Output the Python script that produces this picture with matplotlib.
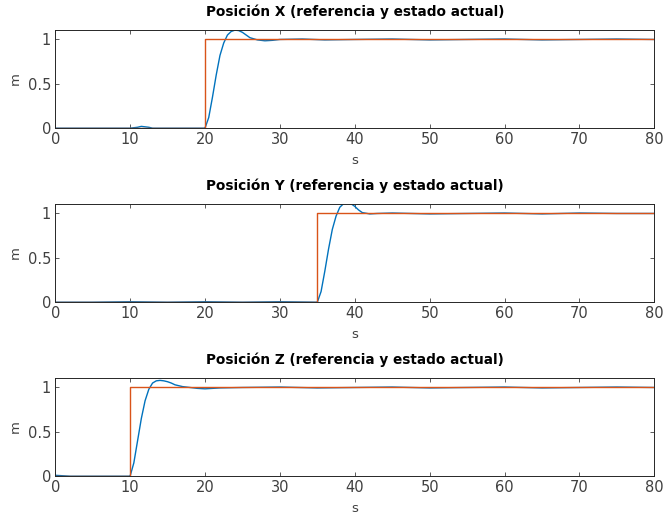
import matplotlib.pyplot as plt

# time axis shared by the hand-read samples
t_x = [0, 5, 10, 11, 11.5, 12, 12.5, 13, 15, 19.9, 20, 20.5, 21, 21.5, 22, 22.5, 23,
       23.5, 24, 24.5, 25, 25.5, 26, 27, 28, 29, 30, 33, 36, 40, 45, 50, 55, 60,
       65, 70, 75, 80]
pos_x = [0.0, 0.0, 0.0, 0.01, 0.02, 0.015, 0.01, 0.0, 0.0, 0.0, 0.0, 0.12, 0.35, 0.6,
         0.82, 0.96, 1.05, 1.09, 1.105, 1.1, 1.08, 1.05, 1.02, 0.995, 0.985, 0.99,
         1.0, 1.005, 0.995, 1.0, 1.005, 0.995, 1.0, 1.005, 0.995, 1.0, 1.005, 1.0]

t_y = [0, 5, 10, 15, 20, 25, 30, 34.9, 35, 35.5, 36, 36.5, 37, 37.5, 38, 38.5, 39,
       39.5, 40, 40.5, 41, 42, 43, 45, 50, 55, 60, 65, 70, 75, 80]
pos_y = [0.0, 0.0, 0.005, 0.0, 0.005, 0.0, 0.005, 0.0, 0.0, 0.12, 0.35, 0.6, 0.82,
         0.97, 1.07, 1.11, 1.12, 1.11, 1.08, 1.04, 1.01, 0.995, 1.0, 1.005, 0.995,
         1.0, 1.005, 0.995, 1.005, 1.0, 1.0]

t_z = [0, 2, 5, 8, 9.9, 10, 10.5, 11, 11.5, 12, 12.5, 13, 13.5, 14, 14.5, 15, 15.5,
       16, 17, 18, 19, 20, 22, 25, 30, 35, 40, 45, 50, 55, 60, 65, 70, 75, 80]
pos_z = [0.01, 0.0, 0.0, 0.0, 0.0, 0.0, 0.15, 0.4, 0.65, 0.85, 0.98, 1.05, 1.075,
         1.08, 1.075, 1.065, 1.05, 1.03, 1.01, 1.0, 0.99, 0.985, 0.995, 1.0, 1.005,
         0.995, 1.0, 1.005, 0.995, 1.0, 1.005, 0.995, 1.0, 1.005, 1.0]

step_times = [20, 35, 10]
titles = ['Posición X (referencia y estado actual)',
          'Posición Y (referencia y estado actual)',
          'Posición Z (referencia y estado actual)']

blue = '#0072BD'
orange = '#D95319'
grey = '#404040'

fig = plt.figure(figsize=(6.65, 5.21), dpi=100)
bottoms = [0.754, 0.420, 0.086]

series = [(t_x, pos_x), (t_y, pos_y), (t_z, pos_z)]
for i in range(3):
    ax = fig.add_axes([0.083, bottoms[i], 0.901, 0.189])
    t, p = series[i]
    ts = step_times[i]
    ax.plot(t, p, color=blue, lw=1.0)
    ax.plot([0, ts, ts, 80], [0, 0, 1, 1], color=orange, lw=1.0)
    ax.set_xlim(0, 80)
    ax.set_ylim(0, 1.11)
    ax.set_xticks(range(0, 81, 10))
    ax.set_yticks([0, 0.5, 1])
    ax.set_yticklabels(['0', '0.5', '1'])
    ax.tick_params(direction='in', top=True, right=True, labelsize=10.5,
                   colors=grey, length=3, width=0.6, pad=3)
    for s in ax.spines.values():
        s.set_color('#262626')
        s.set_linewidth(0.7)
    ax.set_title(titles[i], fontsize=9.8, fontweight='bold', pad=10)
    ax.set_xlabel('s', fontsize=9.5, color=grey, labelpad=5)
    ax.set_ylabel('m', fontsize=9.5, color=grey, labelpad=4)

fig.savefig('out.png', dpi=100)
